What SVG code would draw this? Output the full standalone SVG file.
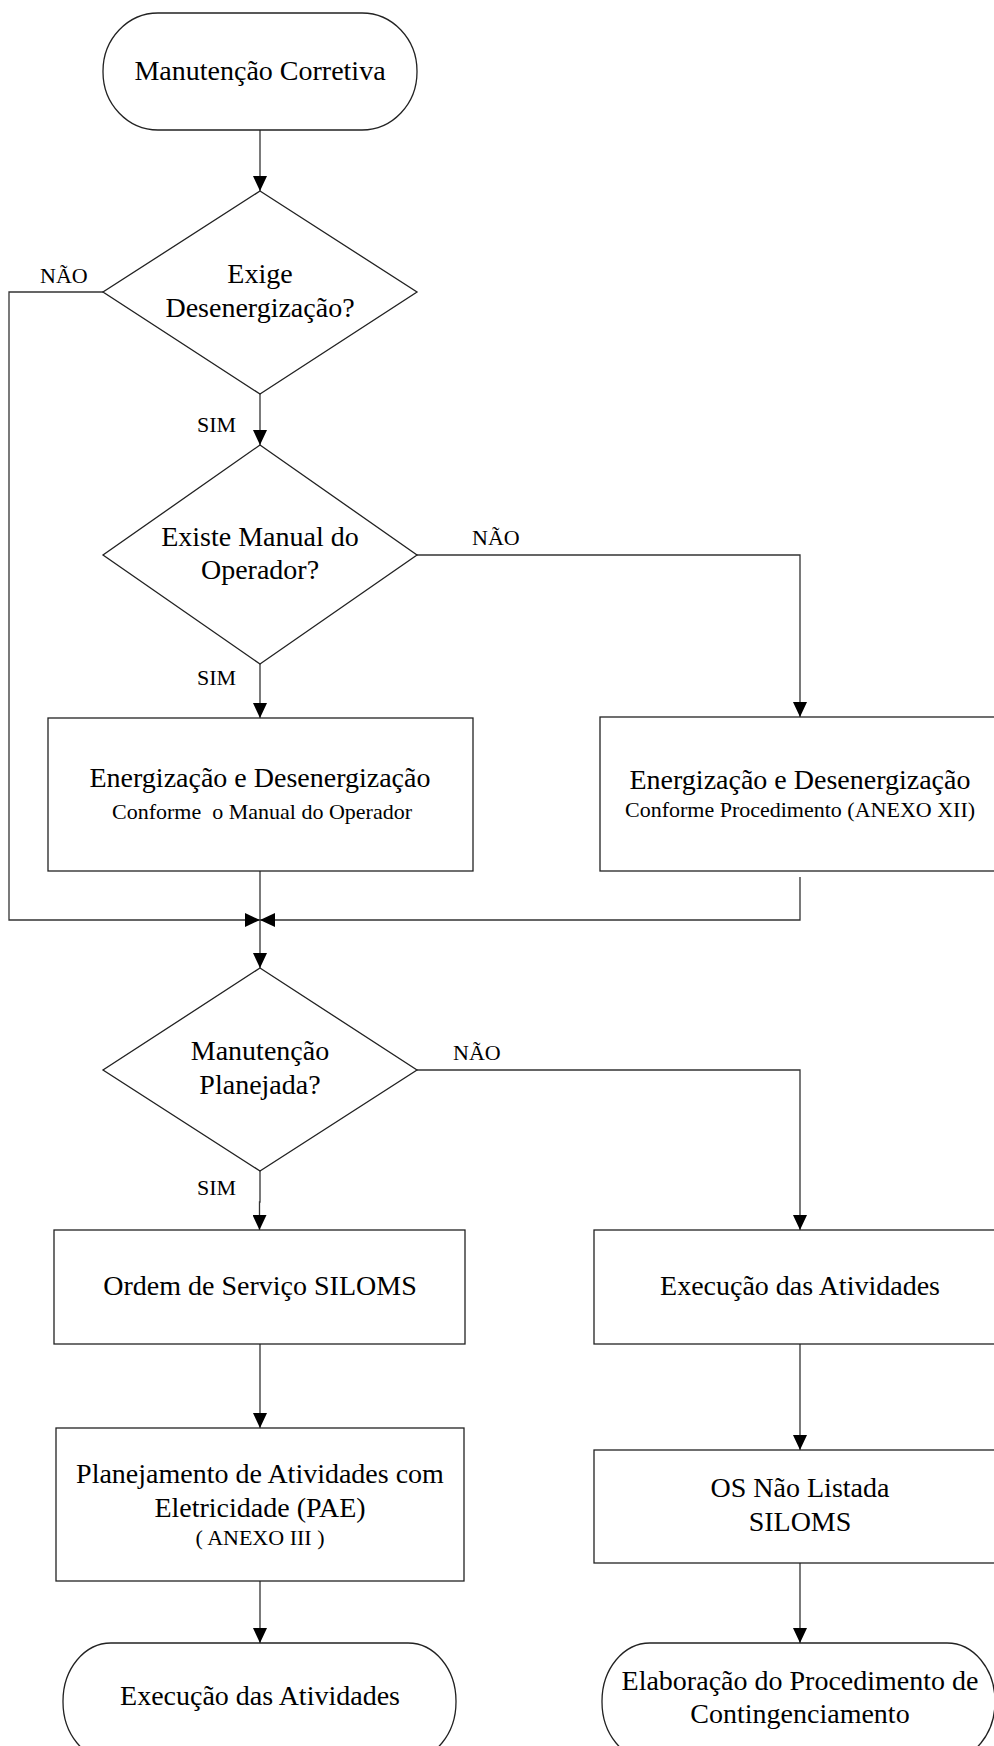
<svg xmlns="http://www.w3.org/2000/svg" width="994" height="1746" viewBox="0 0 994 1746">
<style>
.shape{fill:#fff;stroke:#222;stroke-width:1.3}
.conn{fill:none;stroke:#333;stroke-width:1.3}
.t{font-family:"Liberation Serif","Times New Roman",serif;fill:#000;text-anchor:middle}
.big{font-size:28px}
.small{font-size:22px}
.lbl{font-family:"Liberation Serif","Times New Roman",serif;fill:#000;font-size:22px}
</style>
<defs>
<marker id="arr" markerUnits="userSpaceOnUse" markerWidth="15" markerHeight="14" refX="15" refY="7" orient="auto">
<path d="M0,0 L15,7 L0,14 z" fill="#000"/>
</marker>
</defs>
<rect width="994" height="1746" fill="#fff"/>
<g id="connectors">
<path class="conn" d="M260,130 L260,191" marker-end="url(#arr)"/>
<path class="conn" d="M103,292 L9,292 L9,920 L260,920" marker-end="url(#arr)"/>
<path class="conn" d="M260,394 L260,445" marker-end="url(#arr)"/>
<path class="conn" d="M417,555 L800,555 L800,717" marker-end="url(#arr)"/>
<path class="conn" d="M260,664 L260,718" marker-end="url(#arr)"/>
<path class="conn" d="M260,871 L260,920"/>
<path class="conn" d="M800,877 L800,920 L260,920" marker-end="url(#arr)"/>
<path class="conn" d="M260,920 L260,968" marker-end="url(#arr)"/>
<path class="conn" d="M417,1070 L800,1070 L800,1230" marker-end="url(#arr)"/>
<path class="conn" d="M260,1171 L260,1202 L259.5,1202 L259.5,1230" marker-end="url(#arr)"/>
<path class="conn" d="M260,1344 L260,1428" marker-end="url(#arr)"/>
<path class="conn" d="M260,1581 L260,1643" marker-end="url(#arr)"/>
<path class="conn" d="M800,1344 L800,1450" marker-end="url(#arr)"/>
<path class="conn" d="M800,1563 L800,1643" marker-end="url(#arr)"/>
<text class="lbl" x="40" y="283">NÃO</text>
<text class="lbl" x="197" y="432">SIM</text>
<text class="lbl" x="472" y="545">NÃO</text>
<text class="lbl" x="197" y="685">SIM</text>
<text class="lbl" x="453" y="1060">NÃO</text>
<text class="lbl" x="197" y="1195">SIM</text>
</g>
<g id="start">
<rect class="shape" x="103" y="13" width="314" height="117" rx="55" ry="58"/>
<text class="t big" x="260" y="80">Manutenção Corretiva</text>
</g>
<g id="d1">
<polygon class="shape" points="260,191 417,292 260,394 103,292"/>
<text class="t big" x="260" y="283">Exige</text>
<text class="t big" x="260" y="317">Desenergização?</text>
</g>
<g id="d2">
<polygon class="shape" points="260,445 417,555 260,664 103,555"/>
<text class="t big" x="260" y="546">Existe Manual do</text>
<text class="t big" x="260" y="579">Operador?</text>
</g>
<g id="b1">
<rect class="shape" x="48" y="718" width="425" height="153"/>
<text class="t big" x="260" y="787">Energização e Desenergização</text>
<text class="t small" x="262" y="819" style="white-space:pre">Conforme  o Manual do Operador</text>
</g>
<g id="b2">
<rect class="shape" x="600" y="717" width="420" height="154"/>
<text class="t big" x="800" y="789">Energização e Desenergização</text>
<text class="t small" x="800" y="817">Conforme Procedimento (ANEXO XII)</text>
</g>
<g id="d3">
<polygon class="shape" points="260,968 417,1070 260,1171 103,1070"/>
<text class="t big" x="260" y="1060">Manutenção</text>
<text class="t big" x="260" y="1094">Planejada?</text>
</g>
<g id="b3">
<rect class="shape" x="54" y="1230" width="411" height="114"/>
<text class="t big" x="260" y="1295">Ordem de Serviço SILOMS</text>
</g>
<g id="b4">
<rect class="shape" x="594" y="1230" width="420" height="114"/>
<text class="t big" x="800" y="1295">Execução das Atividades</text>
</g>
<g id="b5">
<rect class="shape" x="56" y="1428" width="408" height="153"/>
<text class="t big" x="260" y="1483">Planejamento de Atividades com</text>
<text class="t big" x="260" y="1517">Eletricidade (PAE)</text>
<text class="t small" x="260" y="1545">( ANEXO III )</text>
</g>
<g id="b6">
<rect class="shape" x="594" y="1450" width="420" height="113"/>
<text class="t big" x="800" y="1497">OS Não Listada</text>
<text class="t big" x="800" y="1531">SILOMS</text>
</g>
<g id="end1">
<rect class="shape" x="63" y="1643" width="393" height="117" rx="48" ry="58"/>
<text class="t big" x="260" y="1705">Execução das Atividades</text>
</g>
<g id="end2">
<rect class="shape" x="602" y="1643" width="393" height="117" rx="48" ry="58"/>
<text class="t big" x="800" y="1690">Elaboração do Procedimento de</text>
<text class="t big" x="800" y="1723">Contingenciamento</text>
</g>
</svg>
